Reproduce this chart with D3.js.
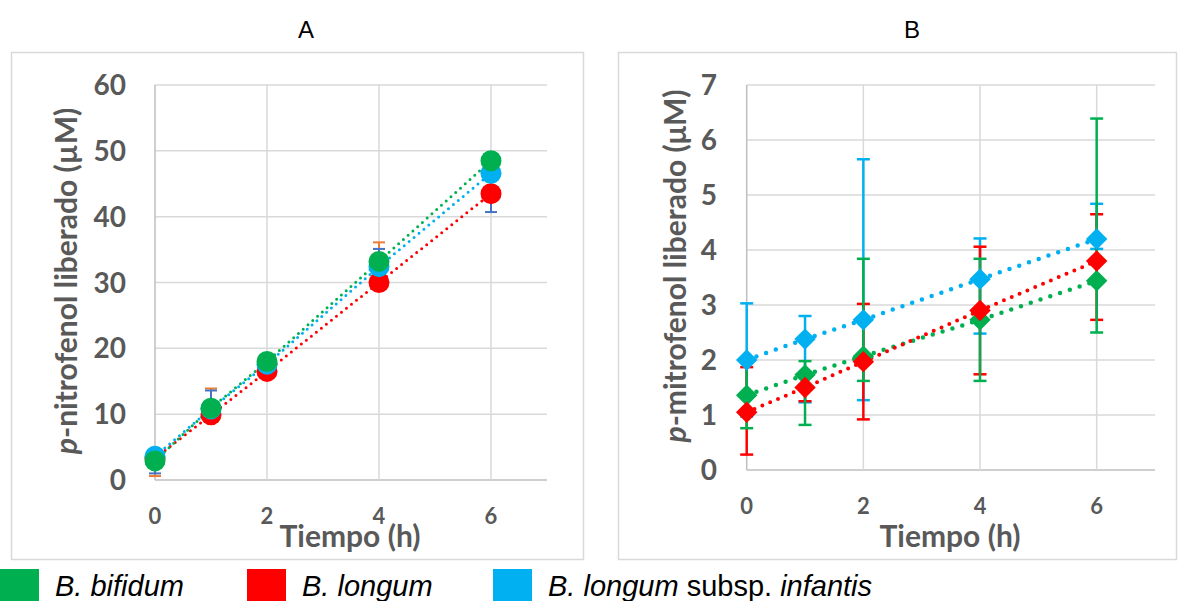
<!DOCTYPE html>
<html>
<head>
<meta charset="utf-8">
<script src="https://cdn.jsdelivr.net/npm/d3@7"></script>
<style>
  body { margin: 0; background: #fff; }
  svg { display: block; }
  .tick-y, .tick-x, .axis-title { font-family: Lato, "Open Sans", sans-serif; font-weight: bold; fill: #595959; }
  .panel-title { font-family: "Liberation Sans", Arial, sans-serif; font-size: 24px; fill: #000; }
  .legend-text { font-family: "Liberation Sans", Arial, sans-serif; font-size: 29px; fill: #000; }
</style>
</head>
<body>
<script>
// ---- data ----
const hours = [0, 1, 2, 4, 6]
const xTicks = [0, 2, 4, 6]
const yTicksA = [0, 10, 20, 30, 40, 50, 60]
const yTicksB = [0, 1, 2, 3, 4, 5, 6, 7]
const names = ["B. bifidum", "B. longum", "B. longum subsp. infantis"]
const colors = ["#00B050", "#FF0000", "#00B0F0"]

// panel A (circles)
const aBifidum = [2.9, 10.9, 18.0, 33.2, 48.5]
const aLongum = [3.3, 9.9, 16.5, 30.0, 43.5]
const aInfantis = [3.6, 10.8, 17.6, 32.4, 46.6]
// panel A error bars (orange and blue, low/high ends)
const aErrOrangeLo = [0.6, 9.5, 17.5, 32.5, 48.0]
const aErrOrangeHi = [3.5, 13.9, 18.5, 36.1, 49.0]
const aErrBlueLo = [1.0, 10.0, 17.0, 31.5, 40.7]
const aErrBlueHi = [4.5, 13.6, 18.2, 35.1, 47.0]

// panel B (diamonds)
const bBifidum = [1.36, 1.73, 2.07, 2.73, 3.44]
const bLongum = [1.05, 1.50, 1.97, 2.90, 3.80]
const bInfantis = [2.00, 2.38, 2.73, 3.47, 4.20]
const bBifidumLo = [0.76, 0.82, 1.62, 1.62, 2.50]
const bBifidumHi = [1.96, 1.98, 3.84, 3.84, 6.39]
const bLongumLo = [0.28, 1.25, 0.92, 1.74, 2.73]
const bLongumHi = [1.87, 1.75, 3.02, 4.06, 4.65]
const bInfantisLo = [0.97, 1.23, 1.27, 2.48, 4.02]
const bInfantisHi = [3.03, 2.80, 5.65, 4.21, 4.84]

const W = 1178, H = 601
const svg = d3.select("body").append("svg").attr("width", W).attr("height", H)

// chart frames
svg.append("rect").attr("x", 11.5).attr("y", 52.5).attr("width", 572).attr("height", 507)
    .attr("fill", "none").attr("stroke", "#D9D9D9").attr("stroke-width", 1.5)
svg.append("rect").attr("x", 618.5).attr("y", 52.5).attr("width", 558).attr("height", 507)
    .attr("fill", "none").attr("stroke", "#D9D9D9").attr("stroke-width", 1.5)

svg.append("text").attr("class", "panel-title").attr("x", 306).attr("y", 38).attr("text-anchor", "middle").text("A")
svg.append("text").attr("class", "panel-title").attr("x", 912).attr("y", 38).attr("text-anchor", "middle").text("B")

function panel(opt) {
    let g = svg.append("g")
    let x = d3.scaleLinear().domain([0, 7]).range(opt.xr)
    let y = d3.scaleLinear().domain(opt.yd).range(opt.yr)

    // grid
    g.selectAll(".hg").data(opt.yTicks).enter().append("line")
        .attr("x1", x(0)).attr("x2", x(7))
        .attr("y1", d => y(d)).attr("y2", d => y(d))
        .attr("stroke", d => d === 0 ? "#BFBFBF" : "#D9D9D9").attr("stroke-width", 1.5)
    g.selectAll(".vg").data(xTicks).enter().append("line")
        .attr("x1", d => x(d)).attr("x2", d => x(d))
        .attr("y1", y(opt.yd[0])).attr("y2", y(opt.yd[1]))
        .attr("stroke", d => d === 0 ? "#BFBFBF" : "#D9D9D9").attr("stroke-width", 1.5)

    // tick labels
    g.selectAll(".ty").data(opt.yTicks).enter().append("text")
        .attr("class", "tick-y").attr("x", opt.yLabelX).attr("y", d => y(d))
        .attr("dy", "0.36em").attr("text-anchor", "end").style("font-size", "28px")
        .text(d => d)
    g.selectAll(".tx").data(xTicks).enter().append("text")
        .attr("class", "tick-x").attr("x", d => x(d)).attr("y", opt.xLabelY)
        .attr("dy", "0.36em").attr("text-anchor", "middle").style("font-size", "22px")
        .text(d => d)

    // axis titles
    g.append("text").attr("class", "axis-title").attr("x", opt.xTitleX).attr("y", 547)
        .attr("text-anchor", "middle").style("font-size", "30px").text("Tiempo (h)")
    let yt = g.append("text").attr("class", "axis-title")
        .attr("transform", `translate(${opt.yTitle[0]},${opt.yTitle[1]}) rotate(-90)`)
        .attr("text-anchor", "middle").style("font-size", "30px")
    yt.append("tspan").style("font-style", "italic").text("p")
    yt.append("tspan").text(opt.yTitleText)

    return {g, x, y}
}

// ---------- panel A ----------
let A = panel({
    xr: [155, 547], yd: [0, 60], yr: [480, 85], yTicks: yTicksA,
    yLabelX: 126, xLabelY: 516, xTitleX: 350, yTitle: [77, 281],
    yTitleText: "-nitrofenol liberado (µM)"
})

function errBars(P, lo, hi, color, cap, sw) {
    let d = hours.map((h, i) => ({h, lo: lo[i], hi: hi[i]}))
    let eg = P.g.append("g").attr("stroke", color).attr("stroke-width", sw)
    eg.selectAll(".v").data(d).enter().append("line")
        .attr("x1", d => P.x(d.h)).attr("x2", d => P.x(d.h))
        .attr("y1", d => P.y(d.lo)).attr("y2", d => P.y(d.hi))
    eg.selectAll(".c1").data(d).enter().append("line")
        .attr("x1", d => P.x(d.h) - cap).attr("x2", d => P.x(d.h) + cap)
        .attr("y1", d => P.y(d.lo)).attr("y2", d => P.y(d.lo))
    eg.selectAll(".c2").data(d).enter().append("line")
        .attr("x1", d => P.x(d.h) - cap).attr("x2", d => P.x(d.h) + cap)
        .attr("y1", d => P.y(d.hi)).attr("y2", d => P.y(d.hi))
}

function dotted(P, vals, color, sw, gap) {
    let line = d3.line().x((d, i) => P.x(hours[i])).y(d => P.y(d))
    P.g.append("path").attr("d", line(vals)).attr("fill", "none")
        .attr("stroke", color).attr("stroke-width", sw)
        .attr("stroke-dasharray", `0 ${gap}`).attr("stroke-linecap", "round")
}

errBars(A, aErrOrangeLo, aErrOrangeHi, "#ED7D31", 6, 2)
errBars(A, aErrBlueLo, aErrBlueHi, "#4472C4", 6, 2)

let aSeries = [aBifidum, aLongum, aInfantis]
dotted(A, aInfantis, colors[2], 3, 6.4)
dotted(A, aLongum, colors[1], 3, 6.4)
dotted(A, aBifidum, colors[0], 3, 6.4)

;[1, 2, 0].forEach(k => {
    A.g.append("g").selectAll("circle").data(aSeries[k]).enter().append("circle")
        .attr("cx", (d, i) => A.x(hours[i])).attr("cy", d => A.y(d))
        .attr("r", 10.5).attr("fill", colors[k])
})

// ---------- panel B ----------
let B = panel({
    xr: [746.7, 1155], yd: [0, 7], yr: [470, 85], yTicks: yTicksB,
    yLabelX: 717, xLabelY: 506, xTitleX: 950, yTitle: [686, 266],
    yTitleText: "-mitrofenol liberado (μM)"
})

errBars(B, bInfantisLo, bInfantisHi, colors[2], 6.5, 2.5)
errBars(B, bLongumLo, bLongumHi, colors[1], 6.5, 2.5)
errBars(B, bBifidumLo, bBifidumHi, colors[0], 6.5, 2.5)

let bSeries = [bBifidum, bLongum, bInfantis]
dotted(B, bInfantis, colors[2], 4.5, 10.3)
dotted(B, bBifidum, colors[0], 4.5, 10.3)
dotted(B, bLongum, colors[1], 4, 8.5)

let diamond = d3.symbol(d3.symbolSquare, 230)
;[0, 1, 2].forEach(k => {
    B.g.append("g").selectAll("path").data(bSeries[k]).enter().append("path")
        .attr("d", diamond)
        .attr("transform", (d, i) => `translate(${B.x(hours[i])},${B.y(d)}) rotate(45)`)
        .attr("fill", colors[k])
})

// ---------- legend ----------
let legendX = [0, 247, 493]
let leg = svg.append("g")
names.forEach((n, k) => {
    leg.append("rect").attr("x", legendX[k]).attr("y", 569).attr("width", 39).attr("height", 32)
        .attr("fill", colors[k])
    let t = leg.append("text").attr("class", "legend-text").attr("x", legendX[k] + 55).attr("y", 596)
    if (k < 2) {
        t.append("tspan").style("font-style", "italic").text(n)
    } else {
        t.append("tspan").style("font-style", "italic").text("B. longum")
        t.append("tspan").text(" subsp. ")
        t.append("tspan").style("font-style", "italic").text("infantis")
    }
})
</script>
</body>
</html>
